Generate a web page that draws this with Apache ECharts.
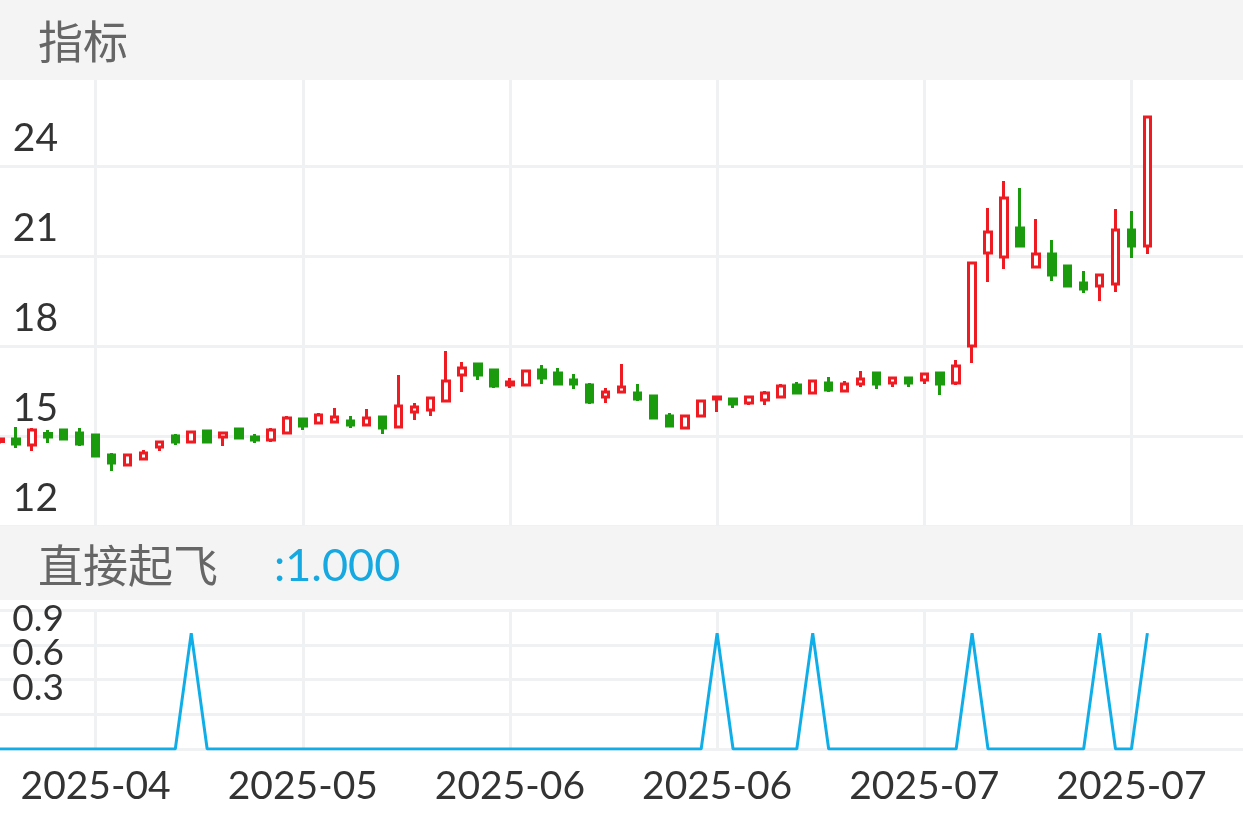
<!DOCTYPE html>
<html>
<head>
<meta charset="utf-8">
<script src="https://cdn.jsdelivr.net/npm/echarts@6/dist/echarts.min.js"></script>
<style>
html,body{margin:0;padding:0;background:#fff;}
#chart{width:1243px;height:826px;}
</style>
</head>
<body>
<div id="chart"></div>
<script>
const dates = [
 '2025-04-17','2025-04-18','2025-04-21','2025-04-22','2025-04-23','2025-04-24','2025-04-25','2025-04-28','2025-04-29','2025-04-30',
 '2025-05-06','2025-05-07','2025-05-08','2025-05-09','2025-05-12','2025-05-13','2025-05-14','2025-05-15','2025-05-16','2025-05-19',
 '2025-05-20','2025-05-21','2025-05-22','2025-05-23','2025-05-26','2025-05-27','2025-05-28','2025-05-29','2025-05-30','2025-06-03',
 '2025-06-04','2025-06-05','2025-06-06','2025-06-09','2025-06-10','2025-06-11','2025-06-12','2025-06-13','2025-06-16','2025-06-17',
 '2025-06-18','2025-06-19','2025-06-20','2025-06-23','2025-06-24','2025-06-25','2025-06-26','2025-06-27','2025-06-30','2025-07-01',
 '2025-07-02','2025-07-03','2025-07-04','2025-07-07','2025-07-08','2025-07-09','2025-07-10','2025-07-11','2025-07-14','2025-07-15',
 '2025-07-16','2025-07-17','2025-07-18','2025-07-21','2025-07-22','2025-07-23','2025-07-24','2025-07-25','2025-07-28','2025-07-29',
 '2025-07-30','2025-07-31','2025-08-01','2025-08-04','2025-08-05','2025-08-06','2025-08-07','2025-08-08','2025-08-11'
];
const opens = [14.82,14.90,14.70,15.08,15.20,15.10,15.03,14.37,14.03,14.23,
 14.63,15.00,14.80,15.17,14.97,15.23,14.97,14.87,15.10,15.57,
 15.43,15.47,15.50,15.37,15.63,15.30,15.80,15.87,16.17,17.03,
 17.40,17.20,16.70,16.70,17.20,17.10,16.87,16.70,16.30,16.47,
 16.43,16.33,15.67,15.27,15.67,16.23,16.23,16.10,16.20,16.30,
 16.70,16.43,16.77,16.50,16.73,17.10,16.77,16.93,16.87,17.10,
 16.77,18.00,21.10,20.97,21.93,20.63,21.07,20.67,20.10,20.00,
 20.07,21.87,21.33];
const closes = [14.90,14.73,15.20,14.97,14.90,14.73,14.33,14.10,14.37,14.43,
 14.80,14.80,15.13,14.80,15.10,14.93,14.87,15.20,15.60,15.33,
 15.70,15.63,15.37,15.60,15.27,16.00,15.97,16.27,16.83,17.27,
 17.03,16.67,16.80,17.17,16.93,16.73,16.73,16.13,16.47,16.63,
 16.23,15.60,15.33,15.67,16.17,16.30,16.07,16.30,16.43,16.67,
 16.43,16.83,16.53,16.73,16.90,16.73,16.93,16.77,17.07,16.73,
 17.33,20.77,21.80,22.93,21.33,21.07,20.37,20.00,19.90,20.37,
 21.87,21.33,25.63];
const lows = [14.75,14.60,14.50,14.77,14.87,14.67,14.30,13.83,14.03,14.23,
 14.50,14.70,14.80,14.80,14.67,14.90,14.77,14.80,15.05,15.20,
 15.43,15.47,15.27,15.37,15.07,15.27,15.53,15.67,16.13,16.47,
 16.87,16.60,16.60,16.70,16.73,16.70,16.57,16.07,16.10,16.47,
 16.17,15.57,15.33,15.27,15.67,15.80,15.93,16.03,16.03,16.30,
 16.40,16.43,16.47,16.50,16.63,16.57,16.63,16.63,16.73,16.37,
 16.70,17.43,20.13,20.57,21.33,20.63,20.17,19.97,19.77,19.50,
 19.80,20.93,21.07];
const highs = [14.95,15.30,15.27,15.20,15.22,15.27,15.05,14.43,14.37,14.53,
 14.80,15.07,15.13,15.20,15.10,15.25,15.07,15.27,15.67,15.60,
 15.77,15.93,15.67,15.90,15.63,17.03,16.10,16.27,17.83,17.47,
 17.43,17.20,16.93,17.20,17.37,17.27,17.07,16.77,16.60,17.40,
 16.73,16.33,15.77,15.70,16.17,16.30,16.23,16.33,16.50,16.73,
 16.80,16.83,16.97,16.83,17.17,17.10,16.97,16.97,17.07,17.10,
 17.53,20.77,22.60,23.50,23.27,22.23,21.53,20.67,20.50,20.37,
 22.57,22.50,25.63];
const signal = [0,0,0,0,0,0,0,0,0,0, 0,0,1,0,0,0,0,0,0,0,
 0,0,0,0,0,0,0,0,0,0, 0,0,0,0,0,0,0,0,0,0,
 0,0,0,0,0,1,0,0,0,0, 0,1,0,0,0,0,0,0,0,0,
 0,1,0,0,0,0,0,0,0,1, 0,0,1];
const priceTicks = {min: 12, max: 27, interval: 3};
const signalTicks = {min: 0, max: 1.2, interval: 0.3};
const lastSignal = signal[signal.length - 1].toFixed(3);

const RED = '#ee1b23', GREEN = '#1a9a0d', BLUE = '#10aee8', GRIDC = '#f0f1f3';
const numFont = 'Lato';
const candleData = opens.map((o, i) => [o, closes[i], lows[i], highs[i]]);
const labelEvery = (i) => i % 13 === 6;

const chart = echarts.init(document.getElementById('chart'));
chart.setOption({
  animation: false,
  backgroundColor: '#ffffff',
  grid: [
    {left: 0, right: 0, top: 76, height: 450, outerBoundsMode: 'none'},
    {left: 0, right: 0, top: 610, height: 139, outerBoundsMode: 'none'}
  ],
  xAxis: [
    {type: 'category', gridIndex: 0, data: dates, boundaryGap: false,
     axisLine: {show: false}, axisTick: {show: false}, axisLabel: {show: false},
     splitLine: {show: true, interval: labelEvery, lineStyle: {color: GRIDC, width: 3}}},
    {type: 'category', gridIndex: 1, data: dates, boundaryGap: false,
     axisLine: {show: false}, axisTick: {show: false},
     axisLabel: {show: true, interval: labelEvery, formatter: v => v.slice(0, 7),
       fontFamily: numFont, fontSize: 39, color: '#333', margin: 17, lineHeight: 40},
     splitLine: {show: true, interval: labelEvery, lineStyle: {color: GRIDC, width: 3}}}
  ],
  yAxis: [
    {type: 'value', gridIndex: 0, min: priceTicks.min, max: priceTicks.max, interval: priceTicks.interval,
     offset: -66, axisLine: {show: false}, axisTick: {show: false},
     axisLabel: {fontFamily: numFont, fontSize: 39, color: '#333', margin: 8, align: 'right',
       verticalAlign: 'bottom', lineHeight: 56, showMaxLabel: false, showMinLabel: true},
     splitLine: {lineStyle: {color: GRIDC, width: 3}}},
    {type: 'value', gridIndex: 1, min: signalTicks.min, max: signalTicks.max, interval: signalTicks.interval,
     offset: -66, axisLine: {show: false}, axisTick: {show: false},
     axisLabel: {fontFamily: numFont, fontSize: 37, color: '#333', margin: 2, align: 'right',
       verticalAlign: 'bottom', lineHeight: 52, showMaxLabel: false, showMinLabel: false,
       formatter: v => v.toFixed(1)},
     splitLine: {lineStyle: {color: GRIDC, width: 3}}}
  ],
  series: [
    {type: 'candlestick', xAxisIndex: 0, yAxisIndex: 0, data: candleData, barWidth: 7,
     itemStyle: {color: '#ffffff', color0: GREEN, borderColor: RED, borderColor0: GREEN, borderWidth: 3}},
    {type: 'line', xAxisIndex: 1, yAxisIndex: 1, data: signal, symbol: 'none',
     lineStyle: {color: BLUE, width: 3}}
  ],
  graphic: [
    {type: 'rect', z: 100, shape: {x: 0, y: 0, width: 1243, height: 80}, style: {fill: '#f4f4f4'}},
    {type: 'rect', z: 100, shape: {x: 0, y: 526, width: 1243, height: 74}, style: {fill: '#f4f4f4'}},
    {type: 'text', z: 101, left: 38, top: 19, style: {text: '指标', fontFamily: 'Noto Sans CJK SC', fontSize: 45, fill: '#666'}},
    {type: 'text', z: 101, left: 38, top: 543, style: {text: '直接起飞', fontFamily: 'Noto Sans CJK SC', fontSize: 45, fill: '#666'}},
    {type: 'text', z: 101, left: 274, top: 544, style: {text: ':' + lastSignal, fontFamily: numFont, fontSize: 45, fill: '#16a8e0'}}
  ]
});
</script>
</body>
</html>
